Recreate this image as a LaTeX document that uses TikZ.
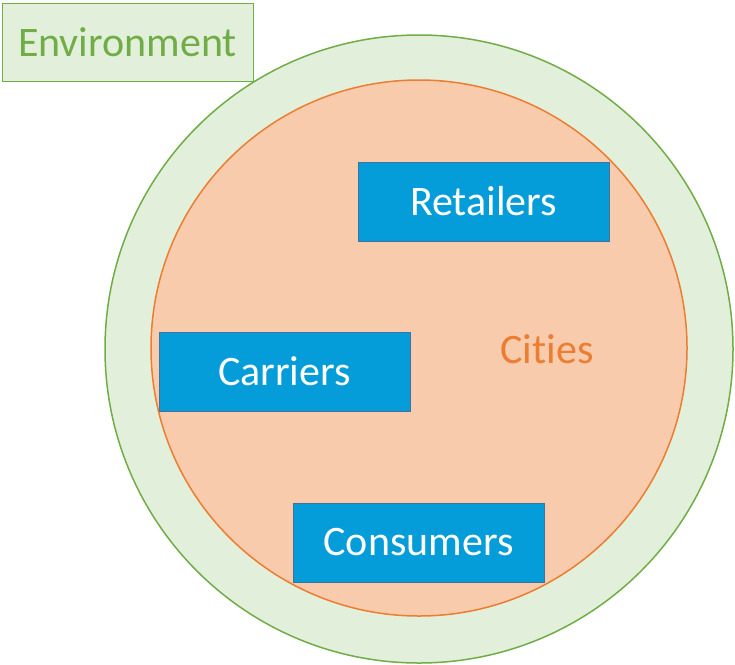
\documentclass[tikz,border=0pt]{standalone}
\usepackage{fontspec}
\setmainfont[RawFeature={-liga}]{Carlito}
\definecolor{envline}{HTML}{70AD47}
\definecolor{envfill}{HTML}{E2EFDA}
\definecolor{cityline}{HTML}{ED7D31}
\definecolor{cityfill}{HTML}{F8CBAD}
\definecolor{actorfill}{HTML}{049DD9}
\definecolor{actorline}{HTML}{41719C}
\begin{document}
\begin{tikzpicture}[x=1pt, y=-1pt,
    actor/.style={rectangle, draw=actorline, fill=actorfill, text=white,
      minimum width=251pt, minimum height=79pt, font=\fontsize{42}{48}\selectfont}]
  \useasboundingbox (0,0) rectangle (735,664);

  % the two circles
  \node [circle, draw=envline, fill=envfill, line width=1.5pt, minimum size=628pt] (env) at (419,349) {};
  \node [circle, draw=cityline, fill=cityfill, line width=1.5pt, minimum size=536pt] (cities) at (419,348) {};
  \node [text=cityline, font=\fontsize{42}{48}\selectfont] (citylabel) at (547,349) {Cities};

  % legend box
  \node [rectangle, draw=envline, fill=envfill, text=envline, line width=1pt,
    minimum width=251pt, minimum height=78pt, font=\fontsize{42}{48}\selectfont] (envlabel) at (127.5,42) {Environment};

  \begin{scope}[every node/.style={actor}]
    \node (retailers) at (483.5,201.5) {Retailers};
    \node (carriers) at (284.5,371.5) {Carriers};
    \node (consumers) at (418.5,542.5) {Consumers};
  \end{scope}
\end{tikzpicture}
\end{document}
